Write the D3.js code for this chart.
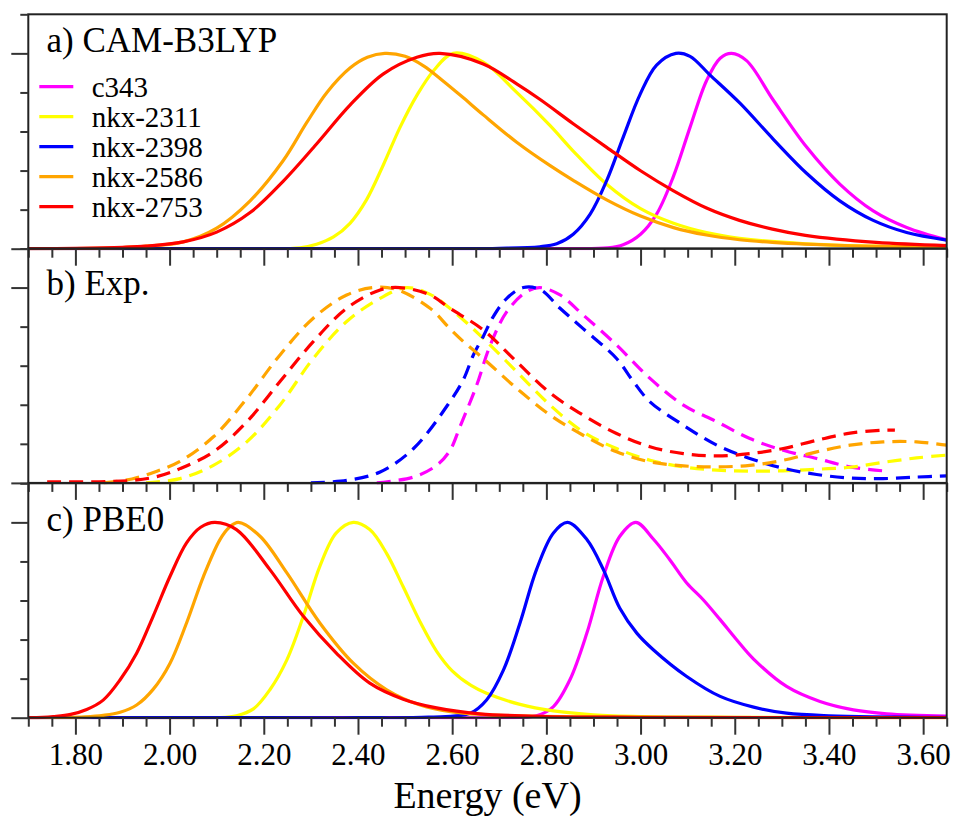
<!DOCTYPE html>
<html>
<head>
<meta charset="utf-8">
<script src="https://cdn.jsdelivr.net/npm/d3@7"></script>
<style>
html,body{margin:0;padding:0;background:#fff;}
svg{display:block;}
svg text{font-family:"Liberation Serif","DejaVu Serif","Times New Roman","Nimbus Roman","Nimbus Roman No9 L","FreeSerif","Noto Serif","Tinos",Times,serif;}
</style>
</head>
<body>
<svg id="chart" width="957" height="816"></svg>
<script>
// ---------- DATA ----------
const seriesNames = ["c343", "nkx-2311", "nkx-2398", "nkx-2586", "nkx-2753"];
const seriesColors = ["#ff00ff", "#ffff00", "#0000ff", "#ffa500", "#ff0000"];
const panelTitles = ["a) CAM-B3LYP", "b) Exp.", "c) PBE0"];
const xMajorTicks = [1.80, 2.00, 2.20, 2.40, 2.60, 2.80, 3.00, 3.20, 3.40, 3.60];
const xTickLabels = ["1.80", "2.00", "2.20", "2.40", "2.60", "2.80", "3.00", "3.20", "3.40", "3.60"];
const xAxisTitle = "Energy (eV)";

// Panel a) CAM-B3LYP
const camC343 = [[1.70,0],[2.60,0],[2.85,0],[2.93,0.004],[2.963,0.02],[3.0,0.074],[3.034,0.177],[3.069,0.365],[3.105,0.621],[3.14,0.86],[3.169,0.975],[3.193,1.0],[3.225,0.963],[3.282,0.76],[3.353,0.519],[3.423,0.331],[3.494,0.194],[3.565,0.109],[3.65,0.045]];
const camNkx2311 = [[1.70,0],[2.0,0],[2.20,0],[2.277,0.005],[2.312,0.023],[2.348,0.06],[2.383,0.13],[2.418,0.25],[2.454,0.43],[2.489,0.62],[2.525,0.785],[2.56,0.91],[2.602,1.0],[2.666,0.955],[2.737,0.80],[2.808,0.63],[2.857,0.50],[2.928,0.33],[3.0,0.205],[3.07,0.13],[3.14,0.082],[3.21,0.053],[3.35,0.025],[3.5,0.013],[3.65,0.008]];
const camNkx2398 = [[1.70,0],[2.40,0],[2.60,0.0],[2.70,0.002],[2.786,0.01],[2.822,0.025],[2.857,0.074],[2.893,0.177],[2.928,0.348],[2.963,0.57],[2.999,0.79],[3.034,0.94],[3.075,1.0],[3.105,0.985],[3.147,0.89],[3.211,0.745],[3.282,0.56],[3.353,0.385],[3.423,0.245],[3.494,0.145],[3.565,0.083],[3.65,0.044]];
const camNkx2586 = [[1.70,0],[1.80,0.001],[1.90,0.006],[1.95,0.013],[2.029,0.035],[2.10,0.105],[2.171,0.245],[2.241,0.45],[2.291,0.645],[2.334,0.80],[2.383,0.925],[2.42,0.98],[2.457,1.0],[2.50,0.985],[2.54,0.935],[2.58,0.86],[2.62,0.78],[2.666,0.685],[2.737,0.545],[2.808,0.425],[2.857,0.35],[2.928,0.25],[3.0,0.167],[3.07,0.108],[3.14,0.07],[3.21,0.046],[3.28,0.032],[3.35,0.023],[3.5,0.012],[3.65,0.007]];
const camNkx2753 = [[1.70,0],[1.80,0.002],[1.90,0.007],[1.95,0.013],[2.029,0.035],[2.10,0.085],[2.171,0.185],[2.241,0.345],[2.312,0.536],[2.383,0.735],[2.454,0.895],[2.525,0.98],[2.574,1.0],[2.666,0.946],[2.737,0.844],[2.786,0.765],[2.857,0.64],[2.928,0.519],[3.0,0.399],[3.07,0.296],[3.14,0.208],[3.21,0.145],[3.28,0.10],[3.35,0.068],[3.5,0.032],[3.65,0.016]];

// Panel b) Experiment
const expC343 = [[2.44,0.0],[2.518,0.03],[2.567,0.09],[2.595,0.165],[2.617,0.29],[2.652,0.5],[2.68,0.7],[2.716,0.877],[2.758,0.979],[2.786,1.0],[2.829,0.962],[2.878,0.86],[2.949,0.706],[3.02,0.535],[3.091,0.398],[3.162,0.313],[3.232,0.227],[3.303,0.167],[3.374,0.125],[3.445,0.082],[3.522,0.06]];
const expNkx2311 = [[1.95,0.0],[2.022,0.022],[2.093,0.09],[2.164,0.21],[2.234,0.398],[2.305,0.637],[2.376,0.826],[2.447,0.945],[2.503,1.0],[2.553,0.965],[2.595,0.894],[2.666,0.74],[2.737,0.569],[2.808,0.398],[2.878,0.261],[2.949,0.176],[3.02,0.116],[3.091,0.082],[3.162,0.065],[3.232,0.06],[3.303,0.062],[3.374,0.07],[3.445,0.08],[3.515,0.105],[3.586,0.128],[3.65,0.142]];
const expNkx2398 = [[2.30,0.0],[2.376,0.013],[2.447,0.056],[2.518,0.176],[2.595,0.415],[2.624,0.53],[2.645,0.655],[2.666,0.75],[2.687,0.85],[2.716,0.945],[2.751,1.0],[2.787,0.99],[2.829,0.894],[2.878,0.79],[2.949,0.637],[2.985,0.518],[3.02,0.415],[3.091,0.295],[3.162,0.193],[3.232,0.125],[3.303,0.075],[3.374,0.043],[3.445,0.025],[3.515,0.022],[3.586,0.03],[3.65,0.036]];
const expNkx2586 = [[1.86,0.0],[1.92,0.02],[1.973,0.06],[2.022,0.11],[2.093,0.236],[2.164,0.432],[2.234,0.654],[2.305,0.843],[2.376,0.962],[2.433,1.0],[2.482,0.99],[2.553,0.894],[2.595,0.79],[2.624,0.723],[2.666,0.637],[2.737,0.484],[2.808,0.347],[2.878,0.244],[2.949,0.159],[3.02,0.108],[3.091,0.087],[3.162,0.082],[3.232,0.09],[3.303,0.116],[3.374,0.159],[3.445,0.193],[3.515,0.21],[3.586,0.21],[3.65,0.193]];
const expNkx2753 = [[1.74,0.006],[1.85,0.006],[1.92,0.013],[1.973,0.032],[2.022,0.073],[2.093,0.159],[2.164,0.313],[2.234,0.518],[2.305,0.723],[2.376,0.894],[2.447,0.988],[2.489,1.0],[2.553,0.962],[2.595,0.894],[2.666,0.783],[2.737,0.62],[2.808,0.46],[2.878,0.347],[2.949,0.253],[3.02,0.185],[3.091,0.15],[3.162,0.138],[3.232,0.15],[3.303,0.176],[3.374,0.218],[3.445,0.255],[3.515,0.27],[3.54,0.27]];

// Panel c) PBE0
const pbeC343 = [[1.70,0],[2.50,0],[2.70,0],[2.779,0.01],[2.815,0.057],[2.85,0.194],[2.886,0.433],[2.921,0.724],[2.956,0.929],[2.99,1.0],[3.027,0.915],[3.062,0.809],[3.098,0.69],[3.133,0.604],[3.169,0.502],[3.204,0.399],[3.24,0.3],[3.31,0.16],[3.381,0.083],[3.452,0.04],[3.523,0.02],[3.65,0.008]];
const pbeNkx2311 = [[1.70,0],[1.90,0],[2.10,0],[2.142,0.01],[2.178,0.045],[2.213,0.143],[2.249,0.296],[2.284,0.519],[2.319,0.775],[2.354,0.946],[2.39,1.0],[2.425,0.963],[2.461,0.84],[2.496,0.67],[2.532,0.49],[2.567,0.34],[2.60,0.24],[2.64,0.165],[2.673,0.125],[2.744,0.068],[2.815,0.035],[2.9,0.015],[3.0,0.006],[3.2,0.002],[3.65,0]];
const pbeNkx2398 = [[1.70,0],[2.20,0],[2.40,0],[2.55,0.003],[2.638,0.023],[2.673,0.091],[2.709,0.245],[2.744,0.485],[2.779,0.758],[2.815,0.946],[2.845,1.0],[2.886,0.912],[2.921,0.758],[2.956,0.56],[2.992,0.433],[3.027,0.348],[3.098,0.211],[3.169,0.109],[3.24,0.054],[3.31,0.023],[3.4,0.01],[3.65,0.002]];
const pbeNkx2586 = [[1.70,0],[1.78,0.001],[1.82,0.004],[1.859,0.012],[1.895,0.028],[1.93,0.065],[1.965,0.145],[2.001,0.279],[2.036,0.485],[2.072,0.724],[2.107,0.912],[2.127,0.975],[2.146,1.0],[2.192,0.929],[2.249,0.741],[2.319,0.485],[2.39,0.279],[2.461,0.143],[2.532,0.065],[2.6,0.03],[2.7,0.012],[3.0,0.002],[3.65,0]];
const pbeNkx2753 = [[1.70,0],[1.73,0.002],[1.753,0.006],[1.79,0.017],[1.824,0.042],[1.859,0.09],[1.895,0.194],[1.93,0.33],[1.965,0.519],[2.001,0.724],[2.036,0.895],[2.066,0.975],[2.096,1.0],[2.142,0.963],[2.213,0.758],[2.284,0.519],[2.354,0.331],[2.425,0.177],[2.496,0.095],[2.567,0.05],[2.659,0.02],[2.8,0.006],[3.0,0.002],[3.65,0]];

const panelSeries = [
  [camC343, camNkx2311, camNkx2398, camNkx2586, camNkx2753],
  [expC343, expNkx2311, expNkx2398, expNkx2586, expNkx2753],
  [pbeC343, pbeNkx2311, pbeNkx2398, pbeNkx2586, pbeNkx2753]
];
const panelDashed = [false, true, false];

// ---------- LAYOUT ----------
const svg = d3.select("#chart");
const plotLeft = 28.3, plotRight = 946.7;
const panelTop = [14.3, 248.5, 483.3];
const panelH = 234.4;

const x = d3.scaleLinear().domain([1.70, 3.65]).range([plotLeft, plotRight]);
const xMinor = d3.range(1.70, 3.651, 0.05).map(v => +v.toFixed(2)).filter(v => !xMajorTicks.some(m => Math.abs(m - v) < 1e-6));

panelSeries.forEach((series, p) => {
  const top = panelTop[p], bottom = top + panelH;
  const y = d3.scaleLinear().domain([0, 1.2]).range([bottom, top]);
  const g = svg.append("g");

  const clipId = "clip" + p;
  svg.append("clipPath").attr("id", clipId).append("rect")
    .attr("x", plotLeft).attr("y", top - 2).attr("width", plotRight - plotLeft).attr("height", panelH + 3.5);

  const line = d3.line().x(d => x(d[0])).y(d => y(Math.max(0, d[1]))).curve(d3.curveCatmullRom.alpha(0.5));
  const lg = g.append("g").attr("clip-path", `url(#${clipId})`);
  series.forEach((data, i) => {
    lg.append("path").datum(data)
      .attr("d", line)
      .attr("fill", "none")
      .attr("stroke", seriesColors[i])
      .attr("stroke-width", 3.2)
      .attr("stroke-dasharray", panelDashed[p] ? "14,8" : null);
  });

  // frame
  g.append("rect").attr("x", plotLeft).attr("y", top).attr("width", plotRight - plotLeft).attr("height", panelH)
    .attr("fill", "none").attr("stroke", "#222").attr("stroke-width", 2);

  // x axis (bottom, outward ticks)
  const xa = g.append("g").attr("transform", `translate(0,${bottom})`)
    .call(d3.axisBottom(x).tickValues(xMajorTicks).tickSize(17)
      .tickFormat((d, i) => p === 2 ? xTickLabels[i] : ""));
  const xm = g.append("g").attr("transform", `translate(0,${bottom})`)
    .call(d3.axisBottom(x).tickValues(xMinor).tickSize(9).tickFormat(""));
  [xa, xm].forEach(a => {
    a.select(".domain").remove();
    a.attr("font-family", null);
    a.selectAll("line").attr("stroke", "#333").attr("stroke-width", 2);
  });
  xa.selectAll("text").attr("y", 47).attr("dy", 0)
    .attr("font-size", 31).attr("fill", "#000");

  // y axis (left, outward ticks, no labels)
  const ya = g.append("g").attr("transform", `translate(${plotLeft},0)`)
    .call(d3.axisLeft(y).tickValues([0, 1.0]).tickSize(17).tickFormat(""));
  const ym = g.append("g").attr("transform", `translate(${plotLeft},0)`)
    .call(d3.axisLeft(y).tickValues([0.2, 0.4, 0.6, 0.8, 1.2]).tickSize(8).tickFormat(""));
  [ya, ym].forEach(a => {
    a.select(".domain").remove();
    a.selectAll("line").attr("stroke", "#333").attr("stroke-width", 2);
  });

  // panel title
  const titleY = [51.5, 295, 531][p];
  g.append("text").attr("x", 46.5).attr("y", titleY)
    .attr("font-size", 35).attr("fill", "#000")
    .text(panelTitles[p]);
});

// legend
const legend = svg.append("g");
seriesNames.forEach((name, i) => {
  const ly = 86.7 + 30 * i;
  legend.append("line").attr("x1", 39.3).attr("x2", 73.3).attr("y1", ly).attr("y2", ly)
    .attr("stroke", seriesColors[i]).attr("stroke-width", 3.2);
  legend.append("text").attr("x", 91.7).attr("y", ly + 10)
    .attr("font-size", 29).attr("fill", "#000").text(name);
});

// x axis title
svg.append("text").attr("x", (plotLeft + plotRight) / 2).attr("y", 808)
  .attr("text-anchor", "middle").attr("font-size", 38).attr("fill", "#000")
  .text(xAxisTitle);
</script>
</body>
</html>
